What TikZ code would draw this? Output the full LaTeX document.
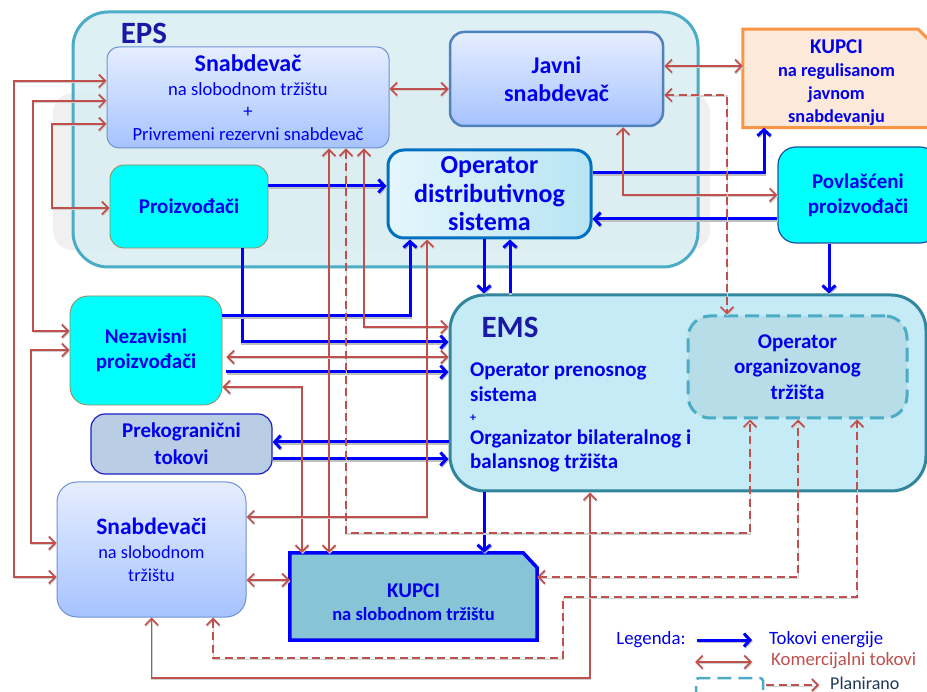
\documentclass[tikz,border=0pt]{standalone}
\usepackage{fontspec}
\setmainfont{Carlito}
\usetikzlibrary{arrows.meta,backgrounds}
\definecolor{txtblue}{RGB}{0,0,235}
\definecolor{eblue}{RGB}{0,0,255}
\definecolor{dblue}{RGB}{25,25,165}
\definecolor{cred}{RGB}{192,80,77}
\definecolor{epsfill}{RGB}{218,238,243}
\definecolor{epsborder}{RGB}{75,172,198}
\definecolor{emsfill}{RGB}{197,235,246}
\definecolor{emsborder}{RGB}{49,133,156}
\definecolor{ootfill}{RGB}{183,222,232}
\definecolor{snabtop}{RGB}{230,238,255}
\definecolor{snabbot}{RGB}{166,195,255}
\definecolor{snabborder}{RGB}{110,145,210}
\definecolor{javniborder}{RGB}{79,129,189}
\definecolor{odstop}{RGB}{228,246,252}
\definecolor{odsbot}{RGB}{183,228,243}
\definecolor{odsborder}{RGB}{0,112,192}
\definecolor{cyanfill}{RGB}{0,255,255}
\definecolor{oliveborder}{RGB}{148,138,84}
\definecolor{povlborder}{RGB}{30,80,160}
\definecolor{prekfill}{RGB}{185,205,229}
\definecolor{prekborder}{RGB}{30,30,200}
\definecolor{kregfill}{RGB}{253,233,217}
\definecolor{kregborder}{RGB}{247,150,70}
\definecolor{kslobfill}{RGB}{134,196,214}
\definecolor{planfont}{RGB}{31,56,90}
\begin{document}
\begin{tikzpicture}[x=1pt,y=-1pt,
  box/.style={rectangle, inner sep=2pt, align=center, text=txtblue},
  en/.style={draw=eblue, line width=3pt, -{Straight Barb[length=6pt,width=13pt]},
     preaction={draw=black!25, line width=3pt, transform canvas={shift={(0.8pt,-1.2pt)}}}},
  com/.style={draw=cred, line width=1.7pt, {Straight Barb[length=6.5pt,width=13pt]}-{Straight Barb[length=6.5pt,width=13pt]},
     preaction={draw=black!18, line width=1.6pt, transform canvas={shift={(0.6pt,-1.3pt)}}}},
  plan/.style={com, dash pattern=on 8pt off 4.5pt},
  etext/.style={inner sep=0pt, text=txtblue, font=\bfseries\fontsize{21}{25}\selectfont}
]
\useasboundingbox (0,0) rectangle (927,692);

% gray shadow region behind EPS
\fill[black!6, rounded corners=20pt] (53,93) rectangle (710,250);
% EPS container
\node[rectangle, rounded corners=35pt, draw=epsborder, line width=3pt, fill=epsfill, fill opacity=0.85,
      minimum width=625pt, minimum height=255pt] (eps) at (385.5,139.5) {};
\node[text=dblue, font=\bfseries\fontsize{31}{31}\selectfont, inner sep=0pt] (epsl) at (144,33) {EPS};

% EMS container
\node[rectangle, rounded corners=35pt, draw=emsborder, line width=3pt, fill=emsfill,
      minimum width=476pt, minimum height=196pt] (ems) at (688,393) {};
\node[text=dblue, font=\bfseries\fontsize{31}{31}\selectfont, inner sep=0pt] (emsl) at (510,327) {EMS};
\node[etext, anchor=base west] (emsa) at (470,377) {Operator prenosnog};
\node[etext, anchor=base west] (emsb) at (470,402) {sistema};
\node[etext, anchor=west, font=\bfseries\fontsize{12}{12}\selectfont] (emsc) at (470,418) {+};
\node[etext, anchor=base west] (emsd) at (470,445) {Organizator bilateralnog i};
\node[etext, anchor=base west] (emse) at (470,469) {balansnog tržišta};

% Operator organizovanog trzista (planned)
\node[box, rounded corners=22pt, draw=epsborder, line width=3pt, dash pattern=on 14pt off 7pt, fill=ootfill,
      minimum width=219pt, minimum height=102pt, font=\bfseries\fontsize{21}{25.5}\selectfont] (oot) at (797.5,367)
      {Operator\\organizovanog\\tržišta};

% Boxes
\node[box, rounded corners=12pt, draw=snabborder, line width=1pt, top color=snabtop, bottom color=snabbot,
      minimum width=282pt, minimum height=101pt, font=\fontsize{18.6}{22.5}\selectfont] (snab) at (248,97.5)
      {{\bfseries\fontsize{24}{26}\selectfont Snabdevač}\\[1pt]na slobodnom tržištu\\+\\Privremeni rezervni snabdevač};

\node[box, rounded corners=14pt, draw=javniborder, line width=2.5pt, top color=snabtop, bottom color=snabbot,
      minimum width=213pt, minimum height=94pt, font=\bfseries\fontsize{24}{28}\selectfont] (javni) at (556.5,79)
      {Javni\\snabdevač};

\node[box, minimum width=187pt, minimum height=97pt, text height=91pt, font=\bfseries\fontsize{18.3}{23}\selectfont] (kreg) at (836.5,78.5)
      {{\fontsize{21}{23}\selectfont KUPCI}\\na regulisanom\\javnom\\snabdevanju};

\node[box, rounded corners=14pt, draw=oliveborder, line width=0.8pt, fill=cyanfill,
      minimum width=158pt, minimum height=83pt, font=\bfseries\fontsize{21}{25}\selectfont] (prod) at (189,206.5)
      {Proizvođači};

\node[box, rounded corners=16pt, draw=odsborder, line width=3pt, left color=odstop, right color=odsbot,
      minimum width=203pt, minimum height=88pt, font=\bfseries\fontsize{26}{28.5}\selectfont] (ods) at (489.5,194)
      {Operator\\distributivnog\\sistema};

\node[box, rounded corners=18pt, draw=povlborder, line width=1.2pt, fill=cyanfill,
      minimum width=160pt, minimum height=96pt, font=\bfseries\fontsize{21}{25}\selectfont] (povl) at (858,195)
      {Povlašćeni\\proizvođači};

\node[box, rounded corners=18pt, draw=oliveborder, line width=0.8pt, fill=cyanfill,
      minimum width=152pt, minimum height=109pt, font=\bfseries\fontsize{21}{25}\selectfont] (nez) at (146,350.5)
      {Nezavisni\\proizvođači};

\node[box, rounded corners=14pt, draw=prekborder, line width=1.2pt, fill=prekfill,
      minimum width=181pt, minimum height=60pt, font=\bfseries\fontsize{21}{27}\selectfont] (prek) at (181.5,444)
      {Prekogranični\\tokovi};

\node[box, rounded corners=20pt, draw=snabborder, line width=1pt, top color=snabtop, bottom color=snabbot,
      minimum width=189pt, minimum height=135pt, font=\fontsize{18.3}{22.5}\selectfont] (snabs) at (151.5,549.5)
      {{\bfseries\fontsize{23.5}{25}\selectfont Snabdevači}\\[2pt]na slobodnom\\tržištu};

\node[box, minimum width=247pt, minimum height=87pt, text height=48pt, font=\bfseries\fontsize{18.5}{23}\selectfont] (kslob) at (413.5,596.5)
      {{\fontsize{21}{23}\selectfont KUPCI}\\na slobodnom tržištu};

\begin{scope}[on background layer]
  \fill[white] (0,0) rectangle (927,692);
  \draw[draw=kregborder, fill=kregfill, line width=3pt]
     (kreg.north west) -- ([xshift=-12pt]kreg.north east) -- ([yshift=-12pt]kreg.north east)
     -- (kreg.south east) -- (kreg.south west) -- cycle;
  \draw[draw=eblue, fill=kslobfill, line width=3.5pt]
     (kslob.north west) -- ([xshift=-14pt]kslob.north east) -- ([yshift=-15pt]kslob.north east)
     -- (kslob.south east) -- (kslob.south west) -- cycle;
\end{scope}

% ---- Energy flows (blue)
\draw[en] (prod.east |- 0,186) -- (ods.west |- 0,186);
\draw[en] (242,0 |- prod.south) |- (ems.west |- 0,342);
\draw[en] (nez.east |- 0,316) -| (410,0 |- ods.south);
\draw[en] ([xshift=4pt]nez.east |- 0,372) -- (ems.west |- 0,372);
\draw[en] (484,0 |- ods.south) -- (484,0 |- ems.north);
\draw[en] (510,0 |- ems.north) -- (510,0 |- ods.south);
\draw[en] (ods.east |- 0,173) -| (764,0 |- kreg.south);
\draw[en] (povl.west |- 0,219) -- (ods.east |- 0,219);
\draw[en] (829,0 |- povl.south) -- (829,0 |- ems.north);
\draw[en] (ems.west |- 0,442) -- (prek.east |- 0,442);
\draw[en] (prek.east |- 0,459) -- (ems.west |- 0,459);
\draw[en] (484,0 |- ems.south) -- (484,0 |- kslob.north);

% ---- Commercial flows (red)
\draw[com] (snab.west |- 0,81) -| (14,577) -- (snabs.west |- 0,577);
\draw[com] (snab.west |- 0,101) -| (33,331) -- (nez.west |- 0,331);
\draw[com] (snab.west |- 0,124) -| (52,208) -- (prod.west |- 0,208);
\draw[com] (nez.west |- 0,350) -| (31,543) -- (snabs.west |- 0,543);
\draw[com] (329,0 |- snab.south) -- (329,0 |- kslob.north);
\draw[com] (364,0 |- snab.south) |- (ems.west |- 0,327);
\draw[com] ([xshift=4pt]nez.east |- 0,357) -- (ems.west |- 0,357);
\draw[com] (nez.east |- 0,387) -| (302,0 |- kslob.north);
\draw[com] (427,0 |- ods.south) |- (snabs.east |- 0,517);
\draw[com] (javni.east |- 0,66) -- (kreg.west |- 0,66);
\draw[com] (623,0 |- javni.south) |- (povl.west |- 0,195);
\draw[com] (snab.east |- 0,89) -- (javni.west |- 0,89);
\draw[com] (snabs.east |- 0,580) -- (kslob.west |- 0,580);
\draw[com] (snabs.south) |- (590,678) -- (590,0 |- ems.south);

% ---- Planned (dashed red)
\draw[plan] (346,0 |- snab.south) |- (750,533) -- (750,0 |- oot.south);
\draw[plan] (javni.east |- 0,95) -| (727,0 |- oot.north);
\draw[plan] (213,0 |- snabs.south) |- (563,658) |- (857,597) -- (857,0 |- oot.south);
\draw[plan] (kslob.east |- 0,577) -| (798,0 |- oot.south);

% ---- Legend
\node[text=txtblue, font=\fontsize{18.8}{20}\selectfont, inner sep=0pt] (leg) at (651,640) {Legenda:};
\coordinate (la1) at (697,640); \coordinate (la2) at (752,640);
\draw[en] (la1) -- (la2);
\node[text=txtblue, font=\fontsize{18.8}{20}\selectfont, inner sep=0pt, anchor=west] (legE) at (769,640) {Tokovi energije};
\coordinate (lb1) at (695,662); \coordinate (lb2) at (752,662);
\draw[com] (lb1) -- (lb2);
\node[text=cred, font=\fontsize{18.8}{20}\selectfont, inner sep=0pt, anchor=west] (legK) at (771,661) {Komercijalni tokovi};
\draw[draw=epsborder, line width=2.5pt, dash pattern=on 14pt off 7pt, rounded corners=3pt] (696,700) |- (763,678) -- (763,700);
\coordinate (lc1) at (766,685); \coordinate (lc2) at (819,685);
\draw[plan, {}-{Straight Barb[length=6pt,width=12pt]}] (lc1) -- (lc2);
\node[text=planfont, font=\fontsize{18}{20}\selectfont, inner sep=0pt, anchor=west] (legP) at (830,683) {Planirano};
\end{tikzpicture}
\end{document}
